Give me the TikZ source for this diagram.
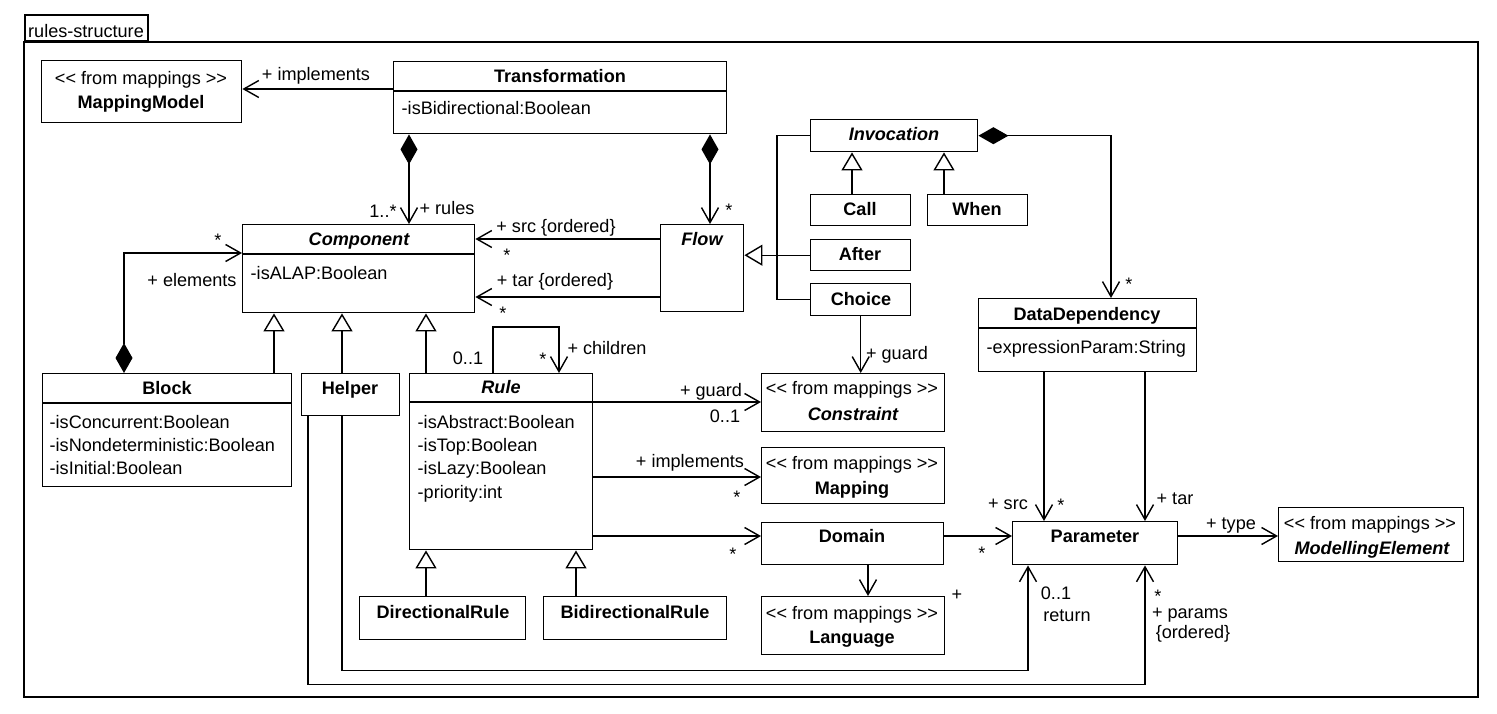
\documentclass[tikz,border=0pt]{standalone}
\usepackage{fontspec}
\setmainfont{Liberation Sans}
\usetikzlibrary{arrows.meta,calc,positioning}
\begin{document}
\begin{tikzpicture}[x=.2mm,y=-.2mm,line width=.8pt,
  cls/.style 2 args={draw,minimum width=#1*.2mm,minimum height=#2*.2mm,inner sep=0pt,anchor=north west},
  txt/.style={inner sep=0pt,text height=7.4pt,text depth=0pt,font=\fontsize{10.3}{12}\selectfont},
  cname/.style={txt,font=\fontsize{10.3}{12}\selectfont\bfseries},
  aname/.style={txt,font=\fontsize{10.3}{12}\selectfont\bfseries\itshape},
  attr/.style={txt,anchor=west},
  assoc/.style={-{Straight Barb[length=3mm,width=3.4mm]}},
  gen/.style={-{Triangle[open,length=3.6mm,width=4.2mm,fill=white]}},
  compo/.style={{Diamond[length=6mm,width=3.4mm]}-{Straight Barb[length=3mm,width=3.4mm]}}]
\useasboundingbox (0,0) rectangle (1497,714);
\draw[line width=1pt] (24,42) rectangle (1478,697);
\node[draw,line width=1pt,anchor=south west,minimum width=123*.2mm,minimum height=26*.2mm,inner sep=0pt] (tab) at (24,42) {};
\node[txt] (tabT) at (86,31) {rules-structure};

\node[cls={200}{62}] (mm) at (41,60) {};
\node[txt] (mmS) at (141,78) {<\kern0pt< from mappings >\kern0pt>};
\node[cname] (mmN) at (141,102) {MappingModel};

\node[cls={333}{72}] (trans) at (393,61) {};
\draw (trans.west |- 0,91) -- (trans.east |- 0,91);
\node[cname] (transN) at (560,76) {Transformation};
\node[attr] (transA) at (401,108) {-isBidirectional:Boolean};

\node[cls={232}{88}] (comp) at (242,224) {};
\draw (comp.west |- 0,254) -- (comp.east |- 0,254);
\node[aname] (compN) at (359,239) {Component};
\node[attr] (compA) at (250,273) {-isALAP:Boolean};

\node[cls={83}{87}] (flow) at (660,224) {};
\node[aname] (flowN) at (702,239) {Flow};

\node[cls={167}{32}] (inv) at (810,119) {};
\node[aname] (invN) at (894,134) {Invocation};
\node[cls={100}{31}] (call) at (810,194) {};
\node[cname] (callN) at (860,209) {Call};
\node[cls={100}{31}] (when) at (927,194) {};
\node[cname] (whenN) at (977,209) {When};
\node[cls={100}{31}] (after) at (810,239) {};
\node[cname] (afterN) at (860,254) {After};
\node[cls={100}{32}] (choice) at (810,283) {};
\node[cname] (choiceN) at (861,299) {Choice};

\node[cls={218}{73}] (dd) at (978,298) {};
\draw (dd.west |- 0,328) -- (dd.east |- 0,328);
\node[cname] (ddN) at (1087,314) {DataDependency};
\node[attr] (ddA) at (986,347) {-expressionParam:String};

\node[cls={183}{58}] (constr) at (761,373) {};
\node[txt] (constrS) at (852,388) {<\kern0pt< from mappings >\kern0pt>};
\node[aname] (constrN) at (853,414) {Constraint};
\node[cls={183}{56}] (map) at (761,447) {};
\node[txt] (mapS) at (852,463) {<\kern0pt< from mappings >\kern0pt>};
\node[cname] (mapN) at (852,488) {Mapping};
\node[cls={182}{42}] (dom) at (761,522) {};
\node[cname] (domN) at (852,536) {Domain};
\node[cls={183}{58}] (lang) at (761,596) {};
\node[txt] (langS) at (852,613) {<\kern0pt< from mappings >\kern0pt>};
\node[cname] (langN) at (852,637) {Language};

\node[cls={165}{43}] (param) at (1012,521) {};
\node[cname] (paramN) at (1095,536) {Parameter};
\node[cls={185}{54}] (me) at (1278,507) {};
\node[txt] (meS) at (1370,523) {<\kern0pt< from mappings >\kern0pt>};
\node[aname] (meN) at (1372,548) {ModellingElement};

\node[cls={183}{176}] (rule) at (409,373) {};
\draw (rule.west |- 0,402) -- (rule.east |- 0,402);
\node[aname] (ruleN) at (501,387) {Rule};
\foreach \a/\y [count=\i] in {-isAbstract:Boolean/422,-isTop:Boolean/445,-isLazy:Boolean/468,-priority:int/492}
  \node[attr] (ruleA\i) at (417,\y) {\a};

\node[cls={249}{113}] (block) at (42,373) {};
\draw (block.west |- 0,403) -- (block.east |- 0,403);
\node[cname] (blockN) at (167,388) {Block};
\foreach \a/\y [count=\i] in {-isConcurrent:Boolean/422,-isNondeterministic:Boolean/445,-isInitial:Boolean/468}
  \node[attr] (blockA\i) at (49,\y) {\a};

\node[cls={98}{42}] (helper) at (301,373) {};
\node[cname] (helperN) at (350,388) {Helper};
\node[cls={166}{43}] (dirrule) at (359,596) {};
\node[cname] (dirruleN) at (443,612) {DirectionalRule};
\node[cls={183}{43}] (bidirrule) at (543,596) {};
\node[cname] (bidirruleN) at (635,612) {BidirectionalRule};

\draw[assoc] (trans.west |- 0,89) -- (mm.east |- 0,89);
\node[txt] (implT) at (316,74) {+ implements};
\draw[compo] (trans.south -| 409,0) -- (comp.north -| 409,0);
\node[txt] (rulesM) at (383,211) {1..*};
\node[txt] (rulesT) at (447,208) {+ rules};
\draw[compo] (trans.south -| 710,0) -- (flow.north -| 710,0);
\node[txt] (flowM) at (729,210) {*};

\draw[assoc] (flow.west |- 0,239) -- (comp.east |- 0,239);
\node[txt] (srcT) at (556,226) {+ src \{ordered\}};
\node[txt] (srcM) at (507,255) {*};
\draw[assoc] (flow.west |- 0,297) -- (comp.east |- 0,297);
\node[txt] (tarT) at (555,280) {+ tar \{ordered\}};
\node[txt] (tarM) at (503,313) {*};

\draw (inv.west) -- ++(-33,0) |- (choice.west);
\draw[gen] (after.west) -- (flow.east |- after.west);
\draw[gen] (call.north -| 852,0) -- (inv.south -| 852,0);
\draw[gen] (when.north -| 944,0) -- (inv.south -| 944,0);
\draw[compo] (inv.east) -| (dd.north -| 1111,0);
\node[txt] (ddM) at (1129,284) {*};
\draw[assoc] (choice.south) -- (choice.south |- constr.north);
\node[txt] (guardT) at (897,353) {+ guard};

\draw[compo] (block.north -| 124,0) |- (comp.west |- 0,253);
\node[txt] (elemM) at (218,240) {*};
\node[txt] (elemT) at (192,280) {+ elements};
\draw[gen] (block.north -| 274,0) -- (comp.south -| 274,0);
\draw[gen] (helper.north -| 342,0) -- (comp.south -| 342,0);
\draw[gen] (rule.north -| 426,0) -- (comp.south -| 426,0);

\draw[assoc] (rule.north -| 493,0) -- ++(0,-46) -| (rule.north -| 559,0);
\node[txt] (loopM) at (468,358) {0..1};
\node[txt] (loopS) at (543,359) {*};
\node[txt] (childT) at (607,348) {+ children};

\draw[assoc] (rule.east |- 0,402) -- (constr.west |- 0,402);
\node[txt] (rguardT) at (711,390) {+ guard};
\node[txt] (rguardM) at (725,416) {0..1};
\draw[assoc] (rule.east |- 0,477) -- (map.west |- 0,477);
\node[txt] (rimplT) at (690,461) {+ implements};
\node[txt] (rimplM) at (737,497) {*};
\draw[assoc] (rule.east |- 0,536) -- (dom.west |- 0,536);
\node[txt] (rdomM) at (733,554) {*};

\draw[assoc] (dom.south -| 868,0) -- (lang.north -| 868,0);
\node[txt] (langM) at (957,594) {+};
\draw[assoc] (dom.east |- 0,536) -- (param.west |- 0,536);
\node[txt] (dparM) at (982,553) {*};

\draw[assoc] (dd.south -| 1044,0) -- (param.north -| 1044,0);
\node[txt] (dsrcT) at (1008,503) {+ src};
\node[txt] (dsrcM) at (1061,505) {*};
\draw[assoc] (dd.south -| 1145,0) -- (param.north -| 1145,0);
\node[txt] (dtarT) at (1175,498) {+ tar};
\draw[assoc] (param.east |- 0,536) -- (me.west |- 0,536);
\node[txt] (typeT) at (1231,523) {+ type};

\draw[assoc] (helper.south -| 342,0) -- ++(0,254) -| (param.south -| 1028,0);
\node[txt] (retM) at (1056,593) {0..1};
\node[txt] (retT) at (1067,615) {return};
\draw[assoc] (helper.south -| 308,0) -- ++(0,268) -| (param.south -| 1145,0);
\node[txt] (parM) at (1158,596) {*};
\node[txt] (parT) at (1190,612) {+ params};
\node[txt] (parO) at (1193,632) {\{ordered\}};

\draw[gen] (dirrule.north -| 426,0) -- (rule.south -| 426,0);
\draw[gen] (bidirrule.north -| 576,0) -- (rule.south -| 576,0);
\end{tikzpicture}
\end{document}
